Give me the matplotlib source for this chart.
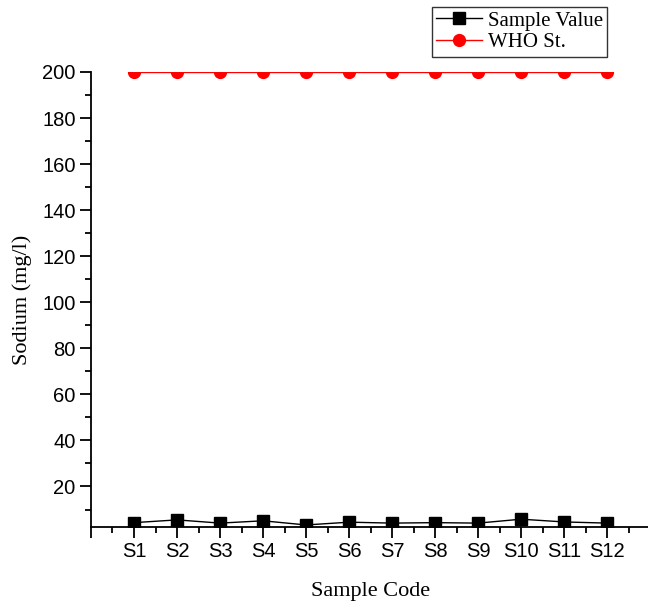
import numpy as np
import matplotlib.pyplot as plt
from matplotlib.ticker import MultipleLocator

# Sodium content of the samples against the WHO limit
samples = ['S1', 'S2', 'S3', 'S4', 'S5', 'S6', 'S7', 'S8', 'S9', 'S10', 'S11', 'S12']
sodium = [4.3, 5.5, 4.1, 5.1, 3.3, 4.5, 4.1, 4.3, 4.1, 5.8, 4.6, 4.1]
who_limit = [200] * 12

x = np.arange(1, len(samples) + 1)

fig = plt.figure(figsize=(6.48, 6.03), dpi=100)
ax = fig.add_axes([0.1404, 0.126, 0.863, 0.7546])

ax.plot(x, sodium, color='black', lw=1, marker='s', ms=8.5, label='Sample Value')
who_line, = ax.plot(x, who_limit, color='red', lw=1, marker='o', ms=8.5, label='WHO St.')
# real path clipping so the circles are cut at the top of the frame
who_line.set_clip_path(ax.patch)

ax.set_xlim(0, 13)
ax.set_ylim(2.4, 200)
ax.set_xticks(np.arange(0, 13))
ax.set_xticklabels([''] + samples)
ax.xaxis.set_minor_locator(MultipleLocator(0.5))
ax.set_yticks(np.arange(20, 201, 20))
ax.yaxis.set_minor_locator(MultipleLocator(10))

for side in ['top', 'right']:
    ax.spines[side].set_visible(False)
for side in ['left', 'bottom']:
    ax.spines[side].set_linewidth(1.3)

ax.tick_params(which='major', direction='out', length=8, width=1.3,
               labelsize=14.5, pad=3)
ax.tick_params(which='minor', direction='out', length=4.5, width=1.3)
for lab in ax.get_xticklabels() + ax.get_yticklabels():
    lab.set_fontfamily('Liberation Sans')

ax.set_xlabel('Sample Code', family='Liberation Serif', fontsize=16, labelpad=15)
ax.set_ylabel('Sodium (mg/l)', family='Liberation Serif', fontsize=16, labelpad=7)

leg = ax.legend(loc='upper right', bbox_to_anchor=(0.923, 1.143), frameon=True,
                fancybox=False, edgecolor='black', handlelength=2.2,
                prop={'family': 'Liberation Serif', 'size': 15},
                borderpad=0.2, labelspacing=0.1, handletextpad=0.3, borderaxespad=0)
leg.get_frame().set_linewidth(1)

fig.savefig('out.png', dpi=100)
